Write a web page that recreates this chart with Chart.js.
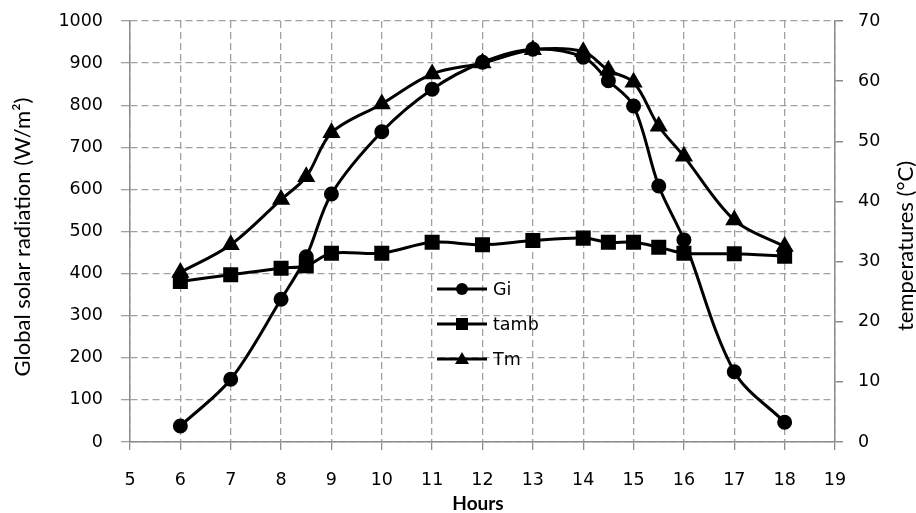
<!DOCTYPE html>
<html lang="en">
<head>
    <meta charset="UTF-8">
    <title>Global solar radiation and temperatures</title>
    <style>
        body { margin: 0; background: #fff; }
        .wrap { position: relative; width: 916px; height: 513px; }
    </style>
    <script src="https://cdn.jsdelivr.net/npm/chart.js"></script>
</head>
<body>
    <div class="wrap">
        <canvas id="chart" width="916" height="513"></canvas>
    </div>

    <script>
        // Data
        const hours = [6, 7, 8, 8.5, 9, 10, 11, 12, 13, 14, 14.5, 15, 15.5, 16, 17, 18];
        const gi    = [38, 149, 339, 440, 589, 737, 838, 902, 933, 914, 858, 798, 608, 480, 167, 47];
        const tamb  = [26.7, 27.8, 28.9, 29.3, 31.4, 31.4, 33.2, 32.8, 33.5, 33.9, 33.2, 33.2, 32.4, 31.4, 31.3, 30.9];
        const tm    = [28.2, 32.8, 40.3, 44.1, 51.4, 56.2, 61.2, 63.0, 65.2, 64.9, 61.8, 59.8, 52.5, 47.5, 36.9, 32.5];

        const tickFont = { family: 'DejaVu Sans', size: 17.5 };
        const gridColor = '#a0a0a0';
        const axisColor = '#8c8c8c';

        const pts = ys => hours.map((h, i) => ({ x: h, y: ys[i] }));

        // axis titles + legend drawn on the canvas
        const extras = {
            id: 'extras',
            afterDraw(chart) {
                const ctx = chart.ctx;
                const a = chart.chartArea;
                ctx.save();
                ctx.fillStyle = '#000';
                ctx.textAlign = 'center';
                ctx.textBaseline = 'middle';

                ctx.font = '22px Lato';
                ctx.save();
                ctx.translate(23, 237);
                ctx.rotate(-Math.PI / 2);
                ctx.fillText('Global solar radiation (W/m²)', 0, 0);
                ctx.restore();

                ctx.font = '22px Lato';
                ctx.save();
                ctx.translate(906, 246);
                ctx.rotate(-Math.PI / 2);
                ctx.fillText('temperatures (°C)', 0, 0);
                ctx.restore();

                ctx.font = 'bold 19px Lato';
                ctx.fillText('Hours', 478, 504);

                // legend
                const lx = a.left + 307, ly = a.top + 268;
                ctx.font = tickFont.size + 'px "DejaVu Sans"';
                ctx.textAlign = 'left';
                chart.data.datasets.forEach((ds, i) => {
                    const y = ly + i * 35;
                    ctx.strokeStyle = '#000';
                    ctx.lineWidth = 3;
                    ctx.beginPath();
                    ctx.moveTo(lx, y);
                    ctx.lineTo(lx + 50, y);
                    ctx.stroke();
                    const cx = lx + 25;
                    ctx.beginPath();
                    if (ds.pointStyle === 'circle') {
                        ctx.arc(cx, y, 6, 0, Math.PI * 2);
                    } else if (ds.pointStyle === 'rect') {
                        ctx.rect(cx - 6, y - 6, 12, 12);
                    } else {
                        ctx.moveTo(cx, y - 7);
                        ctx.lineTo(cx + 7, y + 5);
                        ctx.lineTo(cx - 7, y + 5);
                        ctx.closePath();
                    }
                    ctx.fill();
                    ctx.fillText(ds.label, lx + 56, y + 1);
                });
                ctx.restore();
            }
        };

        const lineStyle = {
            borderColor: '#000',
            backgroundColor: '#000',
            pointBackgroundColor: '#000',
            pointBorderColor: '#000',
            borderWidth: 3,
            tension: 0.33,
            showLine: true,
            fill: false
        };

        const plain = v => String(v);
        const noPad = s => { s.paddingTop = 0; s.paddingBottom = 0; };

        new Chart(document.getElementById('chart'), {
            type: 'scatter',
            data: {
                datasets: [
                    { ...lineStyle, label: 'Gi', data: pts(gi), yAxisID: 'y', pointStyle: 'circle', pointRadius: 6 },
                    { ...lineStyle, label: 'tamb', data: pts(tamb), yAxisID: 'y2', pointStyle: 'rect', pointRadius: 8.5 },
                    { ...lineStyle, label: 'Tm', data: pts(tm), yAxisID: 'y2', pointStyle: 'triangle', pointRadius: 7.5 }
                ]
            },
            options: {
                responsive: false,
                animation: false,
                layout: { padding: { top: 21, left: 0, right: 0, bottom: 0 } },
                plugins: {
                    legend: { display: false },
                    tooltip: { enabled: false }
                },
                scales: {
                    x: {
                        type: 'linear',
                        min: 5, max: 19,
                        ticks: { stepSize: 1, color: '#000', font: tickFont, padding: 20, callback: plain },
                        grid: {
                            color: gridColor, lineWidth: 1.3,
                            tickLength: 8, tickBorderDash: [], tickColor: axisColor
                        },
                        border: { display: true, color: axisColor, width: 1.5, dash: [7, 4] },
                        afterFit: s => { s.height = 71; }
                    },
                    y: {
                        position: 'left',
                        min: 0, max: 1000,
                        ticks: { stepSize: 100, color: '#000', font: tickFont, padding: 18, callback: plain },
                        grid: {
                            color: gridColor, lineWidth: 1.3,
                            tickLength: 9, tickColor: gridColor
                        },
                        border: { display: true, color: axisColor, width: 1.5, dash: [7, 4] },
                        afterFit: s => { s.width = 130; noPad(s); }
                    },
                    y2: {
                        position: 'right',
                        min: 0, max: 70,
                        ticks: { stepSize: 10, color: '#000', font: tickFont, padding: 15, callback: plain },
                        grid: {
                            drawOnChartArea: false, color: axisColor, lineWidth: 1.5,
                            tickLength: 8
                        },
                        border: { display: true, color: axisColor, width: 1.5 },
                        afterFit: s => { s.width = 81; noPad(s); }
                    }
                }
            },
            plugins: [extras]
        });
    </script>
</body>
</html>
